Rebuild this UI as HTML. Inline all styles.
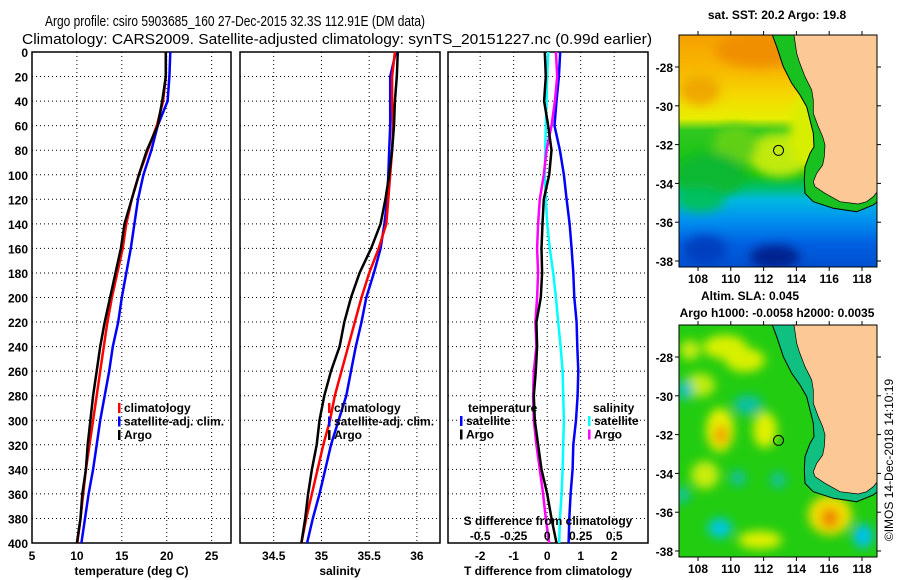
<!DOCTYPE html>
<html><head><meta charset="utf-8"><style>
html,body{margin:0;padding:0;background:#fff;}
svg{display:block;font-family:"Liberation Sans",sans-serif;}
.tk{font-size:12px;font-weight:bold;fill:#000;}
.ttl{font-size:15px;fill:#000;}
</style></head><body>
<svg id="fig" width="900" height="580" viewBox="0 0 900 580">
<text class="ttl" x="45" y="26" textLength="380" lengthAdjust="spacingAndGlyphs">Argo profile: csiro 5903685_160 27-Dec-2015 32.3S 112.91E (DM data)</text>
<text class="ttl" x="22" y="44" textLength="630" lengthAdjust="spacingAndGlyphs">Climatology: CARS2009. Satellite-adjusted climatology: synTS_20151227.nc (0.99d earlier)</text>
<g id="plots"></g>
<g id="maps"></g>
</svg>
<script>
const depths=[0,20,40,60,80,100,120,140,160,180,200,220,240,260,280,300,320,340,360,380,400];
const tempClim=[19.9,19.9,19.6,18.9,17.9,16.9,16.1,15.5,15.1,14.5,13.9,13.4,13.0,12.6,12.2,11.8,11.4,11.0,10.7,10.4,10.05];
const tempSat=[20.4,20.3,20.1,19.0,18.3,17.4,16.8,16.4,16.0,15.5,15.0,14.6,14.0,13.6,13.1,12.6,12.2,11.8,11.3,10.9,10.5];
const tempArgo=[19.9,19.9,19.5,19.0,17.8,16.9,16.1,15.3,14.9,14.3,13.7,13.1,12.6,12.2,11.8,11.5,11.2,11.0,10.6,10.4,10.0];
const salClim=[35.77,35.74,35.74,35.75,35.74,35.72,35.70,35.68,35.60,35.50,35.42,35.35,35.28,35.21,35.14,35.09,35.02,34.96,34.90,34.84,34.79];
const salSat=[35.78,35.72,35.72,35.72,35.71,35.70,35.69,35.66,35.62,35.55,35.47,35.42,35.36,35.31,35.26,35.18,35.10,35.04,34.98,34.91,34.85];
const salArgo=[35.80,35.79,35.77,35.76,35.74,35.71,35.67,35.62,35.52,35.40,35.31,35.24,35.19,35.10,35.03,34.98,34.95,34.90,34.86,34.83,34.79];
const dTSat=[0.39,0.35,0.28,0.22,0.38,0.50,0.58,0.67,0.73,0.78,0.81,0.88,0.90,0.93,0.91,0.86,0.78,0.76,0.70,0.66,0.64];
const dTArgo=[-0.07,-0.04,-0.09,0.03,0.13,0.06,-0.10,-0.14,-0.17,-0.15,-0.19,-0.32,-0.30,-0.34,-0.40,-0.37,-0.27,-0.17,0.00,0.13,0.28];
const dSSat=[0.008,0.000,-0.005,-0.010,-0.015,-0.018,-0.010,0.000,0.020,0.045,0.065,0.082,0.100,0.115,0.120,0.125,0.120,0.115,0.108,0.095,0.090];
const dSArgo=[0.065,0.075,0.058,0.032,-0.005,-0.025,-0.055,-0.068,-0.075,-0.068,-0.075,-0.088,-0.080,-0.100,-0.105,-0.100,-0.080,-0.055,-0.030,-0.010,0.015];
const tTicks=[5,10,15,20,25], sTicks=[34.5,35,35.5,36], dTicks=[-2,-1,0,1,2], dsTicks=[-0.5,-0.25,0,0.25,0.5];
const dTickLabels=["-0.5","-0.25","0","0.25","0.5"];
const latTicks=[-28,-30,-32,-34,-36,-38], lonTicks=[108,110,112,114,116,118];
const argoLon=112.91, argoLat=-32.3;

const NS="http://www.w3.org/2000/svg";
function mk(tag,attrs,parent){const e=document.createElementNS(NS,tag);for(const k in attrs)e.setAttribute(k,attrs[k]);parent.appendChild(e);return e;}
const plots=document.getElementById('plots');
const Y0=52,Y1=543;
const yD=d=>Y0+d*(Y1-Y0)/400;
function panel(name,x0,x1,vmin,vmax,ticks,labels,xlabel,showY){
  const g=mk('g',{},plots);
  
  
  const sx=v=>x0+(v-vmin)*(x1-x0)/(vmax-vmin);
  for(let d=20;d<400;d+=20){const l=mk('line',{x1:x0,x2:x1,y1:yD(d),y2:yD(d),stroke:'#000','stroke-dasharray':'1,3','stroke-width':1},g);}
  ticks.forEach((t,i)=>{const x=sx(t);
    const l=mk('line',{x1:x,x2:x,y1:Y0,y2:Y1,stroke:'#000','stroke-dasharray':'1,3'},g);
    const tx=mk('text',{x:x,y:Y1+17,'text-anchor':'middle',class:'tk'},g);tx.textContent=labels[i];});
  const r=mk('rect',{x:x0,y:Y0,width:x1-x0,height:Y1-Y0,fill:'none',stroke:'#000','stroke-width':1.5},g);
  
  const xl=mk('text',{x:(x0+x1)/2,y:Y1+32,'text-anchor':'middle',class:'tk'},g);xl.textContent=xlabel;
  
  if(showY){for(let d=0;d<=400;d+=20){const t=mk('text',{x:x0-4,y:yD(d)+5,'text-anchor':'end',class:'tk'},g);t.textContent=d;}}
  return {g,sx};
}
function series(p,vals,color,name,scale){
  const pts=vals.map((v,i)=>p.sx(v*(scale||1)).toFixed(1)+','+yD(depths[i]).toFixed(1)).join(' ');
  const l=mk('polyline',{points:pts,fill:'none',stroke:color,'stroke-width':2.5},p.g);
  
}
function legend(g,x,y,items){
  items.forEach((it,i)=>{const yy=y+i*13.5;
    const m=mk('rect',{x:x,y:yy-9,width:2.5,height:10,fill:it[1]},g);
    const t=mk('text',{x:x+6,y:yy,class:'tk'},g);t.textContent=it[0];});
}
const p1=panel('temperature',32,231,5,27.16,tTicks,tTicks.map(String),'temperature (deg C)',true);
series(p1,tempSat,'#0000ff','temperature-satellite-line');
series(p1,tempClim,'#ff0000','temperature-climatology-line');
series(p1,tempArgo,'#000','temperature-argo-line');
legend(p1.g,118,412,[['climatology','#f00'],['satellite-adj. clim.','#00f'],['Argo','#000']]);
const p2=panel('salinity',240,440,34.147,36.242,sTicks,['34.5','35','35.5','36'],'salinity',false);
series(p2,salSat,'#0000ff','salinity-satellite-line');
series(p2,salClim,'#ff0000','salinity-climatology-line');
series(p2,salArgo,'#000','salinity-argo-line');
legend(p2.g,328,412,[['climatology','#f00'],['satellite-adj. clim.','#00f'],['Argo','#000']]);
const p3=panel('difference',448,648,-2.96,3.01,dTicks,dTicks.map(String),'T difference from climatology',false);
series(p3,dSSat,'#00ffff','salinity-satellite-diff-line',4);
series(p3,dTSat,'#0000ff','temperature-satellite-diff-line');
series(p3,dSArgo,'#ff00ff','salinity-argo-diff-line',4);
series(p3,dTArgo,'#000','temperature-argo-diff-line');
{const t=mk('text',{x:468,y:412,class:'tk'},p3.g);t.textContent='temperature';
 const s=mk('text',{x:593,y:412,class:'tk'},p3.g);s.textContent='salinity';}
legend(p3.g,460,425,[['satellite','#00f'],['Argo','#000']]);
legend(p3.g,588,425,[['satellite','#0ff'],['Argo','#f0f']]);
{const t=mk('text',{x:548,y:525,'text-anchor':'middle',class:'tk'},p3.g);t.textContent='S difference from climatology';
 dsTicks.forEach((v,i)=>{const x=p3.sx(v*4);const tt=mk('text',{x:x,y:540,'text-anchor':'middle',class:'tk'},p3.g);tt.textContent=dTickLabels[i];});}

// maps
const maps=document.getElementById('maps');
const MX0=679,MX1=877;
const lonX=l=>698+(l-108)*16.4;
const coast=[[462,105],[470,160],[478,185],[495,230],[515,270],[520,300],[520,340],[535,380],[548,410],[555,435],[553,470],[548,495],[530,520],[520,545],[525,560],[555,580],[600,605],[655,612],[680,605],[700,590],[712,575]];
const contour=[[397,105],[410,140],[430,200],[455,250],[480,285],[500,320],[510,360],[520,400],[522,440],[510,460],[495,500],[493,540],[495,580],[520,605],[580,625],[650,635],[700,615],[712,605]];
function drawMap(name,oy,title,title2,kind){
  const g=mk('g',{},maps);
  
  const top=35+oy,bot=267+oy;
  const latY=l=>67+oy+(-28-l)*19.4;
  const P=p=>(640+p[0]/3).toFixed(1)+','+(oy+p[1]/3).toFixed(1);
  const cid='clip'+oy;
  const cp=mk('clipPath',{id:cid},g);mk('rect',{x:MX0,y:top,width:MX1-MX0,height:bot-top},cp);
  const inner=mk('g',{'clip-path':'url(#'+cid+')'},g);
  const defs=mk('defs',{},g);
  const bl=mk('filter',{id:'bl'+oy,x:'-50%',y:'-50%',width:'200%',height:'200%'},defs);mk('feGaussianBlur',{stdDeviation:kind==='sst'?5:5},bl);
  if(kind==='sst'){
    const lg=mk('linearGradient',{id:'sg',x1:0,y1:0,x2:0,y2:1},defs);
    [[0,'#f5a000'],[0.15,'#f8b800'],[0.26,'#f4d800'],[0.36,'#e8ee00'],[0.41,'#30c820'],[0.6,'#10c010'],[0.66,'#00c070'],[0.71,'#00b8e0'],[0.8,'#0090f0'],[0.9,'#0060e0'],[1,'#0050d0']].forEach(s=>mk('stop',{offset:s[0],'stop-color':s[1]},lg));
    mk('rect',{x:MX0,y:top,width:200,height:232,fill:'url(#sg)'},inner);
    const b=mk('g',{filter:'url(#bl'+oy+')'},inner);
    mk('ellipse',{cx:760,cy:top+15,rx:45,ry:18,fill:'#f09000'},b);
    mk('ellipse',{cx:700,cy:top+55,rx:20,ry:15,fill:'#f0a800'},b);
    mk('ellipse',{cx:780,cy:top+120,rx:32,ry:22,fill:'#c0ea10'},b);
    mk('ellipse',{cx:810,cy:top+95,rx:20,ry:40,fill:'#d8ee00'},b);
    mk('ellipse',{cx:735,cy:top+110,rx:22,ry:20,fill:'#60d018'},b);
    mk('ellipse',{cx:710,cy:top+140,rx:35,ry:22,fill:'#10b830'},b);
    mk('ellipse',{cx:700,cy:top+165,rx:25,ry:12,fill:'#00c060'},b);
    mk('ellipse',{cx:775,cy:top+222,rx:25,ry:12,fill:'#002090'},b);
    mk('ellipse',{cx:705,cy:top+215,rx:22,ry:15,fill:'#0040c0'},b);
  } else {
    mk('rect',{x:MX0,y:top,width:200,height:232,fill:'#22cc10'},inner);
    const b=mk('g',{filter:'url(#bl'+oy+')'},inner);
    [[725,oy+57,22,12,'#d8f000'],[745,oy+70,20,12,'#d8f000'],[700,oy+95,15,12,'#c0ec10'],[720,oy+140,14,22,'#e8f000'],[721,oy+145,7,10,'#f0a000'],[765,oy+140,12,18,'#e0f000'],[705,oy+185,14,14,'#c8ec10'],[830,oy+225,22,20,'#f0e000'],[830,oy+228,9,10,'#f08000'],[760,oy+250,22,9,'#e0f000'],[690,oy+60,10,10,'#c8ec10']].forEach(e=>mk('ellipse',{cx:e[0],cy:e[1],rx:e[2],ry:e[3],fill:e[4]},b));
    [[685,oy+100,8,10,'#10c0c0'],[748,oy+115,15,10,'#10c0a0'],[720,oy+238,12,10,'#00c8e0'],[863,oy+246,10,12,'#00c0f0'],[738,oy+188,8,8,'#10c0a0'],[778,oy+190,8,8,'#10c0a0'],[683,oy+205,6,8,'#10c0c0']].forEach(e=>mk('ellipse',{cx:e[0],cy:e[1],rx:e[2],ry:e[3],fill:e[4]},b));
  }
  const shelf=mk('polygon',{points:contour.map(P).join(' ')+' '+coast.slice().reverse().map(P).join(' '),fill:kind==='sst'?'#18c020':'#10c080'},inner);
  
  const land=mk('polygon',{points:coast.map(P).join(' ')+' 880,'+(oy+100)+' 880,'+(oy+30),fill:'#fbc896',stroke:'#000','stroke-width':0.7},inner);
  
  const cl=mk('polyline',{points:contour.map(P).join(' '),fill:'none',stroke:'#000','stroke-width':1},inner);
  
  const fr=mk('rect',{x:MX0,y:top,width:MX1-MX0,height:bot-top,fill:'none',stroke:'#000','stroke-width':1},g);
  
  const c=mk('circle',{cx:lonX(argoLon),cy:latY(argoLat),r:5,fill:'none',stroke:'#000','stroke-width':1},g);
  
  latTicks.forEach(l=>{const y=latY(l);mk('line',{x1:MX0-4,x2:MX0,y1:y,y2:y,stroke:'#000'},g);mk('line',{x1:MX1,x2:MX1+4,y1:y,y2:y,stroke:'#000'},g);
    const t=mk('text',{x:MX0-6,y:y+5,'text-anchor':'end',class:'tk'},g);t.textContent=l;});
  lonTicks.forEach(l=>{const x=lonX(l);mk('line',{x1:x,x2:x,y1:top-4,y2:top,stroke:'#000'},g);mk('line',{x1:x,x2:x,y1:bot,y2:bot+4,stroke:'#000'},g);
    const t=mk('text',{x:x,y:bot+16,'text-anchor':'middle',class:'tk'},g);t.textContent=l;});
  const t1=mk('text',{x:title2?750:777,y:title2?oy+10:19,'text-anchor':'middle',class:'tk'},g);t1.textContent=title;
  
  if(title2){const t2=mk('text',{x:777,y:oy+27,'text-anchor':'middle',class:'tk'},g);t2.textContent=title2;}
}
drawMap('sst-map',0,'sat. SST: 20.2 Argo: 19.8',null,'sst');
drawMap('sla-map',290,'Altim. SLA: 0.045','Argo h1000: -0.0058 h2000: 0.0035','sla');
const cr=mk('text',{x:0,y:0,transform:'translate(893,460) rotate(-90)','text-anchor':'middle',style:'font-size:12px;fill:#000'},maps);
cr.textContent='©IMOS 14-Dec-2018 14:10:19';


</script>
</body></html>
